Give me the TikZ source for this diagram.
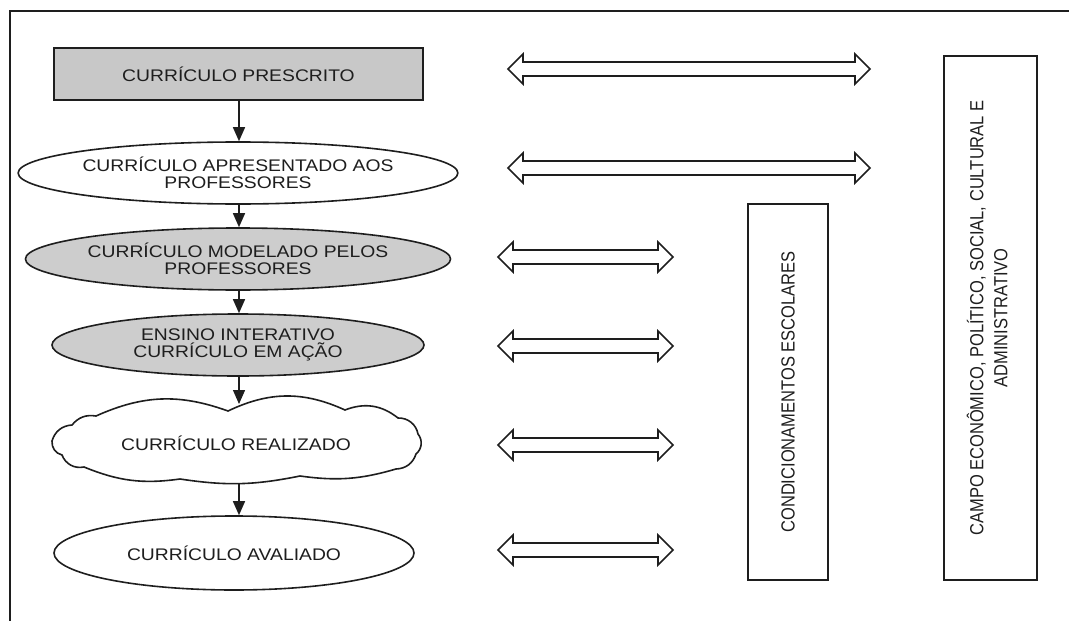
\documentclass[tikz,border=0pt]{standalone}
\usepackage{fontspec}
\setmainfont{Liberation Sans}[FakeStretch=1.15]
\newfontfamily\rotfont{Liberation Sans}
\usetikzlibrary{shapes.geometric,arrows.meta}
\definecolor{boxgray}{RGB}{200,200,200}
\definecolor{ellgray}{RGB}{205,205,205}
\definecolor{ink}{RGB}{30,30,30}
\tikzset{
  lw/.style={line width=1.6pt, draw=ink},
  lbl/.style={font=\fontsize{16.8}{17}\selectfont, text=ink, align=center, inner sep=0pt},
  stagebox/.style={lw, lbl, rectangle, minimum width=369pt, minimum height=52pt},
  stageell/.style={lw, lbl, ellipse, minimum width=372pt, minimum height=62pt},
  puff/.style={bend left=#1},
  flow/.style={line width=1.4pt, draw=ink, -{Triangle[length=14pt,width=12pt]}},
  pics/dblarrow/.style={code={
    \draw[lw, fill=white, line join=miter]
      (-#1,0) -- (-#1+15,-15) -- (-#1+15,-7) -- (#1-15,-7) -- (#1-15,-15) -- (#1,0)
      -- (#1-15,15) -- (#1-15,7) -- (-#1+15,7) -- (-#1+15,15) -- cycle;
  }},
  sidebox/.style={lw, rectangle, rotate=90, inner sep=0pt, text=ink, align=center, font=\rotfont\fontsize{16.5}{21}\selectfont}
}
\begin{document}
\begin{tikzpicture}[x=1pt,y=-1pt]
\useasboundingbox (0,0) rectangle (1069,621);
\coordinate (fbl) at (10,621);
\coordinate (ftl) at (10,11);
\coordinate (ftr) at (1069,11);
\draw[line width=1.5pt, draw=ink] (fbl) -- (ftl) -- (ftr);

\node[stagebox, fill=boxgray] (s1) at (238.5,74) {CURRÍCULO PRESCRITO};
\node[stageell, fill=white] (s2) at (238,173) {CURRÍCULO APRESENTADO AOS\\PROFESSORES};
\node[stageell, fill=ellgray] (s3) at (238,259) {CURRÍCULO MODELADO PELOS\\PROFESSORES};
\node[stageell, fill=ellgray] (s4) at (238,345) {ENSINO INTERATIVO\\CURRÍCULO EM AÇÃO};

% cloud outline
\draw[lw, fill=white]
  (52,441) to[puff=35] (72,425) to[puff=30] (96,416)
  to[puff=22] (228,411) to[puff=25] (345,410) to[puff=30] (398,418)
  to[puff=40] (418,434) to[puff=45] (416,454) to[puff=35] (396,469)
  to[puff=12] (300,476) to[puff=10] (180,479) to[puff=15] (84,467)
  to[puff=40] (62,455) to[puff=40] cycle;
\node[lbl] (s5) at (236,443) {CURRÍCULO REALIZADO};
\coordinate (s5top) at (239,404);
\coordinate (s5bot) at (239,484);

\node[stageell, fill=white, minimum width=360pt, minimum height=74pt] (s6) at (234,553) {CURRÍCULO AVALIADO};

\draw[flow] (s1.south -| 239,0) -- (s2.north -| 239,0);
\draw[flow] (s2.south -| 239,0) -- (s3.north -| 239,0);
\draw[flow] (s3.south -| 239,0) -- (s4.north -| 239,0);
\draw[flow] (s4.south -| 239,0) -- (s5top);
\draw[flow] (s5bot) -- (s6.north -| 239,0);

\pic (a1) at (689,69) {dblarrow=181};
\pic (a2) at (689,168) {dblarrow=181};
\pic (a3) at (585.5,257) {dblarrow=87.5};
\pic (a4) at (585.5,346) {dblarrow=87.5};
\pic (a5) at (585.5,445) {dblarrow=87.5};
\pic (a6) at (585.5,550) {dblarrow=87.5};

\node[sidebox, minimum width=376pt, minimum height=80pt] (cond) at (788,392)
  {\scalebox{1}[1.15]{CONDICIONAMENTOS ESCOLARES}};
\node[sidebox, minimum width=524pt, minimum height=93pt] (campo) at (990.5,318)
  {\scalebox{1}[1.15]{\begin{tabular}{@{}c@{}}CAMPO ECONÔMICO, POLÍTICO, SOCIAL, CULTURAL E\\ADMINISTRATIVO\end{tabular}}};
\end{tikzpicture}
\end{document}
